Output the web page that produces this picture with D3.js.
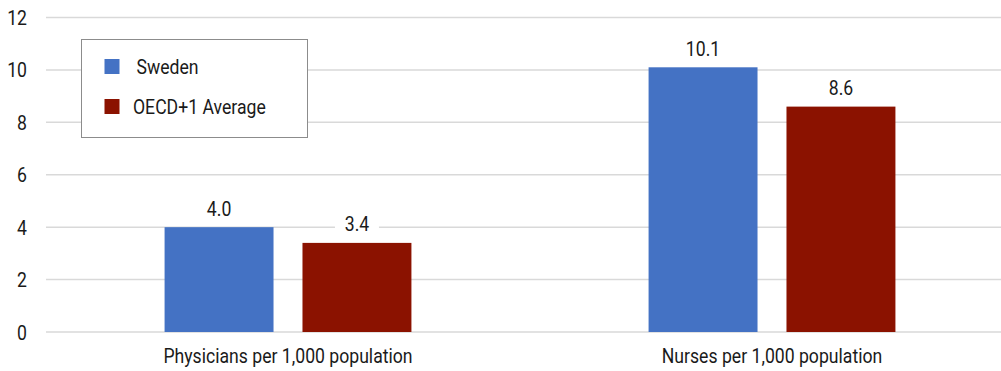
<!DOCTYPE html>
<html><head><meta charset="utf-8">
<script src="https://cdn.jsdelivr.net/npm/d3@7"></script>
<style>html,body{margin:0;padding:0;background:#fff;} text{font-family:Roboto,"Liberation Sans",sans-serif;fill:#1a1a1a;}</style>
</head><body><svg id="c" width="1001" height="371"></svg>
<script>
const categories = ["Physicians per 1,000 population", "Nurses per 1,000 population"];
const seriesNames = ["Sweden", "OECD+1 Average"];
const sweden = [4.0, 10.1];
const oecd = [3.4, 8.6];
const yTicks = [0, 2, 4, 6, 8, 10, 12];
const colors = ["#4472C4", "#8B1200"];

const svg = d3.select("#c");
const SX = 0.84, FS = 21;
function txt(g, x, y, s, anchor) {
  return g.append("text").attr("transform", `translate(${x},${y}) scale(${SX},1)`)
    .attr("text-anchor", anchor || "middle").attr("font-size", FS).text(s);
}
const data = categories.map((c, i) => ({cat: c, vals: [sweden[i], oecd[i]]}));
const y = d3.scaleLinear().domain([0, 12]).range([332, 17.5]);
const x0 = d3.scaleBand().domain(categories).range([46, 1014]).paddingInner(0.49).paddingOuter(0.245);
const x1 = d3.scaleBand().domain(seriesNames).range([0, x0.bandwidth()]).paddingInner(0.21);

// grid
const grid = svg.append("g");
grid.selectAll("line").data(yTicks).join("line")
  .attr("x1", 46).attr("x2", 1001).attr("y1", d => y(d)).attr("y2", d => y(d))
  .attr("stroke", "#d9d9d9").attr("stroke-width", 1.5);
// y labels
const yl = svg.append("g");
yTicks.forEach(t => txt(yl, 27, y(t) + 7.5, String(t), "end"));

// bars
const bars = svg.append("g");
data.forEach(d => {
  d.vals.forEach((v, j) => {
    const bx = x0(d.cat) + x1(seriesNames[j]);
    bars.append("rect").attr("x", bx).attr("y", y(v)).attr("width", x1.bandwidth())
      .attr("height", y(0) - y(v)).attr("fill", colors[j]);
  });
});
// value labels
const vl = svg.append("g");
data.forEach(d => {
  d.vals.forEach((v, j) => {
    const cx = x0(d.cat) + x1(seriesNames[j]) + x1.bandwidth() / 2;
    const cy = y(v) - 19;
    vl.append("rect").attr("x", cx - 22).attr("y", cy - 11).attr("width", 44).attr("height", 22).attr("fill", "#fff");
    txt(vl, cx, cy + 7.5, v.toFixed(1), "middle");
  });
});
// category labels
const cl = svg.append("g");
categories.forEach(c => txt(cl, x0(c) + x0.bandwidth() / 2, 363, c, "middle"));

// legend
const lg = svg.append("g");
lg.append("rect").attr("x", 81.5).attr("y", 39.5).attr("width", 226).attr("height", 98)
  .attr("fill", "#fff").attr("stroke", "#8c8c8c").attr("stroke-width", 1);
const legY = [59, 99], legTX = [136.5, 133];
seriesNames.forEach((s, i) => {
  lg.append("rect").attr("x", 104.5).attr("y", legY[i]).attr("width", 15).attr("height", 15).attr("fill", colors[i]);
  txt(lg, legTX[i], legY[i] + 15, s, "start");
});
</script></body></html>
